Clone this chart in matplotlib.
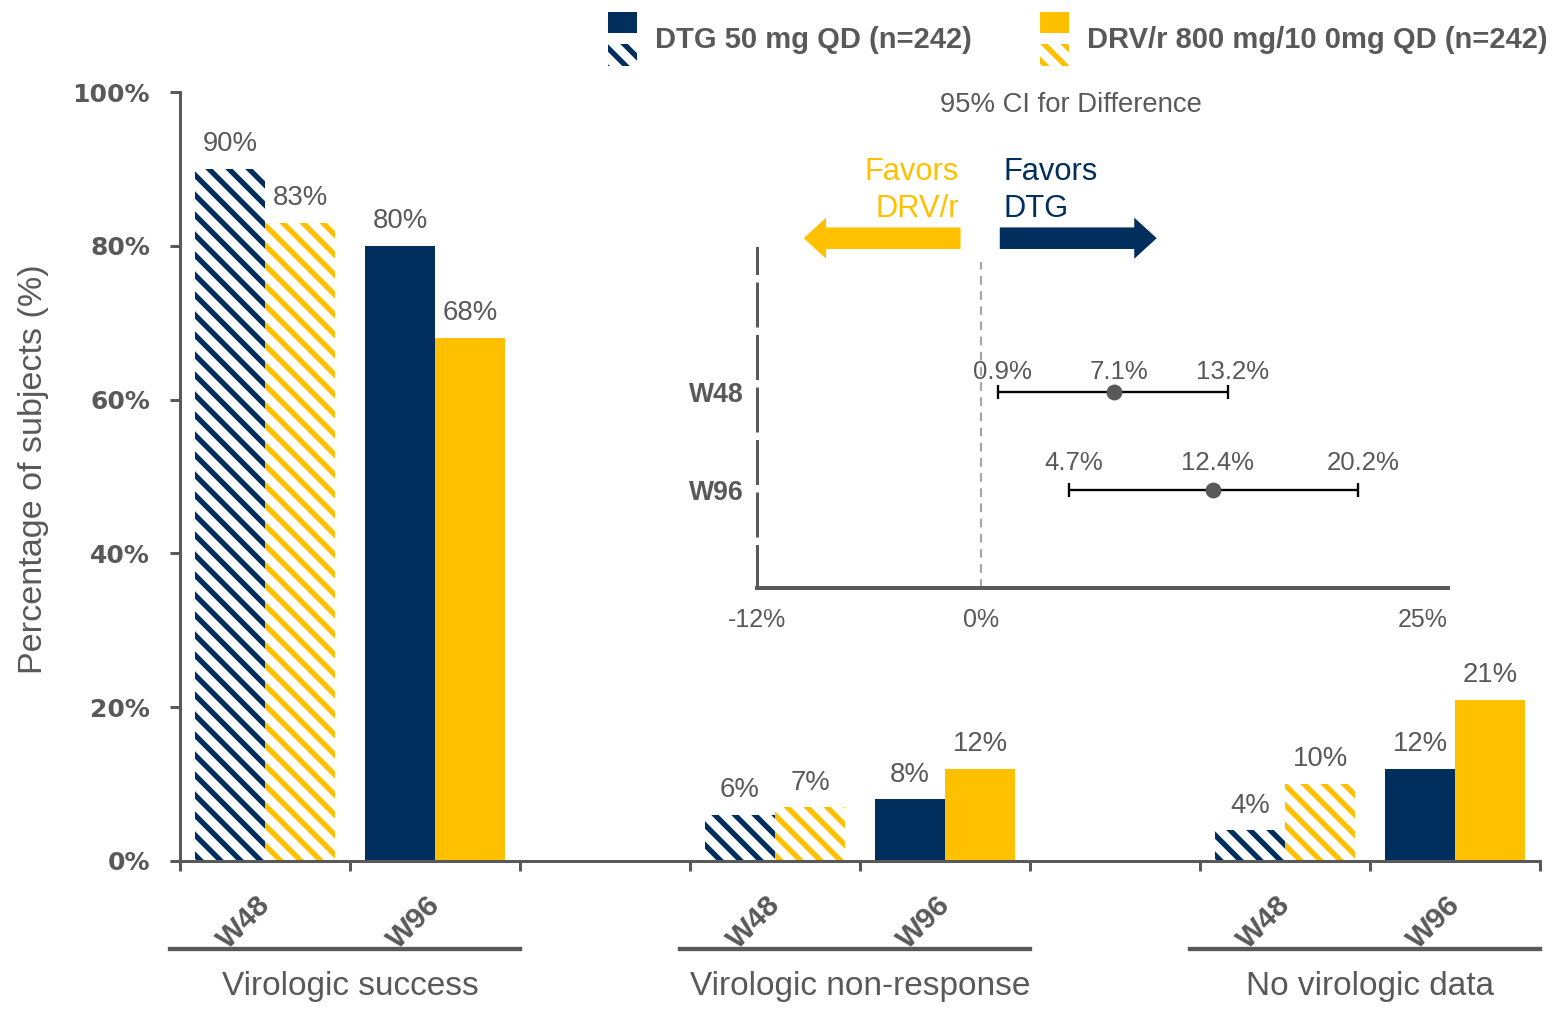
import matplotlib
matplotlib.use("Agg")
import matplotlib.pyplot as plt
from matplotlib import font_manager
from matplotlib.patches import Rectangle, FancyArrow
from matplotlib.lines import Line2D
from matplotlib.transforms import blended_transform_factory

# ---- data ----
categories = ["Virologic success", "Virologic non-response", "No virologic data"]
weeks = ["W48", "W96"]
dtg_w48 = [90, 6, 4]
drv_w48 = [83, 7, 10]
dtg_w96 = [80, 8, 12]
drv_w96 = [68, 12, 21]

ci_weeks = ["W48", "W96"]
ci_est = [7.1, 12.4]
ci_lo = [0.9, 4.7]
ci_hi = [13.2, 20.2]

legend_labels = ["DTG 50 mg QD (n=242)", "DRV/r 800 mg/10 0mg QD (n=242)"]

NAVY = "#002F5E"
GOLD = "#FFC000"
GREY = "#595959"
HATCH = "\\\\"

installed = {f.name for f in font_manager.fontManager.ttflist}
NARROW = "Liberation Sans Narrow" if "Liberation Sans Narrow" in installed else "Liberation Sans"

plt.rcParams["hatch.linewidth"] = 3.2
plt.rcParams["font.family"] = [NARROW, "DejaVu Sans"]

W, H, DPI = 1558, 1009, 120
fig = plt.figure(figsize=(W / DPI, H / DPI), dpi=DPI)


def fx(px):
    return px / W


def fy(py):
    return 1 - py / H


# ---- main bar chart ----
ax = fig.add_axes([fx(180), fy(861), fx(1360), 769 / H])
bw = 0.412
for g in range(3):
    for k, (dtg, drv) in enumerate([(dtg_w48, drv_w48), (dtg_w96, drv_w96)]):
        slot = 3 * g + k
        hatched = k == 0
        for val, col, off in [(dtg[g], NAVY, 0.294), (drv[g], GOLD, 0.706)]:
            if hatched:
                ax.bar(slot + off, val, bw, facecolor="white", edgecolor=col,
                       hatch=HATCH, linewidth=0)
            else:
                ax.bar(slot + off, val, bw, color=col, linewidth=0)
            ax.annotate(f"{val}%", (slot + off, val), xytext=(0, 7),
                        textcoords="offset points", ha="center", va="bottom",
                        fontsize=16.5, color=GREY)

ax.set_xlim(0, 8)
ax.set_ylim(0, 100)
ax.set_yticks(range(0, 101, 20))
ax.set_yticklabels([f"{v}%" for v in range(0, 101, 20)], family="DejaVu Sans",
                   fontweight="bold", fontsize=15, color=GREY)
ax.set_xticks(range(9))
ax.set_xticklabels([])
ax.tick_params(axis="both", length=6, width=1.8, color=GREY, pad=12)
for s in ["top", "right"]:
    ax.spines[s].set_visible(False)
for s in ["left", "bottom"]:
    ax.spines[s].set_color(GREY)
    ax.spines[s].set_linewidth(1.8)
ax.set_ylabel("Percentage of subjects (%)", fontsize=20.5, color=GREY)
ax.yaxis.set_label_coords(-0.096, 0.51)

# week labels, group rules and group names under the axis
tr = blended_transform_factory(ax.transData, ax.transAxes)
for g, name in enumerate(categories):
    for k, wk in enumerate(weeks):
        ax.text(3 * g + k + 0.38, -0.08, wk, transform=tr, rotation=45,
                ha="center", va="center", fontsize=18, fontweight="bold",
                family="Liberation Sans", color=GREY)
    ax.add_line(Line2D([3 * g - 0.06, 3 * g + 2.0], [-0.114, -0.114], transform=tr,
                       color=GREY, linewidth=2.6, clip_on=False))
    ax.text(3 * g + 1.0, -0.163, name, transform=tr, ha="center", va="center",
            fontsize=20, color=GREY)

# ---- legend ----
for i, (col, lab) in enumerate(zip([NAVY, GOLD], legend_labels)):
    x0 = [608, 1040][i]
    fig.add_artist(Rectangle((fx(x0), fy(33)), fx(29), 21 / H, color=col,
                             transform=fig.transFigure, linewidth=0))
    fig.add_artist(Rectangle((fx(x0), fy(66)), fx(29), 22 / H, facecolor="white",
                             edgecolor=col, hatch=HATCH, linewidth=0,
                             transform=fig.transFigure))
    fig.text(fx(x0 + 47), fy(40), lab, ha="left", va="center", fontsize=17.5,
             fontweight="bold", family="Liberation Sans", color=GREY)

# ---- CI inset ----
ax2 = fig.add_axes([fx(757), fy(588), fx(691), 340 / H])
ax2.set_xlim(-12, 25)
ax2.set_ylim(0, 3.47)
ypos = [2, 1]
offsets = [5, 9]
for y, e, lo, hi, dy in zip(ypos, ci_est, ci_lo, ci_hi, offsets):
    ax2.errorbar(e, y, xerr=[[e - lo], [hi - e]], fmt="o", color=GREY,
                 markersize=8.5, ecolor="black", elinewidth=1.4, capsize=4,
                 capthick=1.4, zorder=3)
    for v in (lo, e, hi):
        ax2.annotate(f"{v}%", (v, y), xytext=(3, dy), textcoords="offset points",
                     ha="center", va="bottom", fontsize=15.5, color=GREY)

ax2.axvline(0, ymax=3.33 / 3.47, color="#A6A6A6", linestyle=(0, (4, 3)),
            linewidth=1.3)
ax2.set_yticks(ypos)
ax2.set_yticklabels(ci_weeks, fontsize=16, fontweight="bold",
                    family="Liberation Sans", color=GREY)
ax2.set_xticks([-12, 0, 25])
ax2.set_xticklabels(["-12%", "0%", "25%"], fontsize=15, color=GREY)
ax2.get_xticklabels()[-1].set_ha("right")
ax2.tick_params(length=0)
ax2.tick_params(axis="x", pad=12)
ax2.tick_params(axis="y", pad=8)
ax2.patch.set_alpha(0)
for s in ["top", "right"]:
    ax2.spines[s].set_visible(False)
ax2.spines["bottom"].set_color(GREY)
ax2.spines["bottom"].set_linewidth(2.4)
ax2.spines["left"].set_color(GREY)
ax2.spines["left"].set_linewidth(1.8)
ax2.spines["left"].set_linestyle((0, (14, 3.5)))

ax2.text(4.8, 4.93, "95% CI for Difference", ha="center", va="center",
         fontsize=16.5, color=GREY)
ax2.add_patch(FancyArrow(-1.1, 3.57, -8.4, 0, width=0.22, head_width=0.42,
                         head_length=1.2, length_includes_head=True,
                         color=GOLD, linewidth=0, clip_on=False))
ax2.add_patch(FancyArrow(1.0, 3.57, 8.4, 0, width=0.22, head_width=0.42,
                         head_length=1.2, length_includes_head=True,
                         color=NAVY, linewidth=0, clip_on=False))
ax2.text(-1.2, 4.06, "Favors\nDRV/r", ha="right", va="center", fontsize=18.5,
         color=GOLD, linespacing=1.3)
ax2.text(1.2, 4.06, "Favors\nDTG", ha="left", va="center", fontsize=18.5,
         color=NAVY, linespacing=1.3)

fig.savefig("out.png", dpi=DPI)
